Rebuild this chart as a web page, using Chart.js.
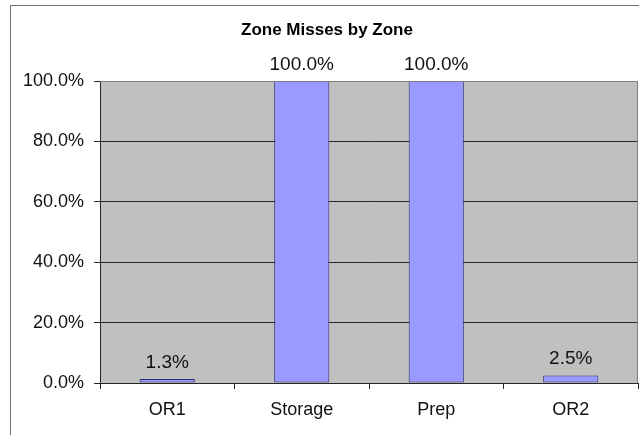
<!DOCTYPE html>
<html>
<head>
<meta charset="utf-8">
<script src="https://cdn.jsdelivr.net/npm/chart.js@4"></script>
<style>
  html, body { margin: 0; padding: 0; background: #fff; }
  canvas { display: block; }
</style>
</head>
<body>
<canvas id="chart" width="639" height="435"></canvas>
<script>
  const zones = ['OR1', 'Storage', 'Prep', 'OR2'];
  const missPct = [1.3, 100, 100, 2.5];
  const yTicks = [0, 20, 40, 60, 80, 100];

  const FONT = "'Liberation Sans', Arial, sans-serif";
  const GRID = '#262626';
  const FRAME = '#808080';

  // outer frame + grey plot area
  const framePlugin = {
    id: 'frame',
    beforeDraw(chart) {
      const { ctx, chartArea: a } = chart;
      ctx.save();
      ctx.fillStyle = '#fff';
      ctx.fillRect(0, 0, chart.width, chart.height);
      ctx.strokeStyle = '#707070';
      ctx.lineWidth = 1;
      ctx.strokeRect(10.5, 5.5, chart.width + 10, chart.height + 10);
      ctx.fillStyle = '#c0c0c0';
      ctx.fillRect(a.left, a.top, a.right - a.left, a.bottom - a.top);
      ctx.restore();
    },
    afterDraw(chart) {
      const { ctx, chartArea: a } = chart;
      ctx.save();
      ctx.strokeStyle = FRAME;
      ctx.lineWidth = 1;
      ctx.beginPath();
      ctx.moveTo(a.left, a.top + 0.5);
      ctx.lineTo(a.right - 0.5, a.top + 0.5);
      ctx.lineTo(a.right - 0.5, a.bottom);
      ctx.stroke();
      ctx.restore();
    }
  };

  //value labels above the bars
  const labelPlugin = {
    id: 'barLabels',
    afterDatasetsDraw(chart) {
      const { ctx } = chart;
      const meta = chart.getDatasetMeta(0);
      ctx.save();
      ctx.font = `19px ${FONT}`;
      ctx.fillStyle = '#111';
      ctx.textAlign = 'center';
      ctx.textBaseline = 'alphabetic';
      meta.data.forEach((bar, i) => {
        ctx.fillText(missPct[i].toFixed(1) + '%', bar.x, bar.y - 11);
      });
      ctx.restore();
    }
  };

  new Chart(document.getElementById('chart'), {
    type: 'bar',
    data: {
      labels: zones,
      datasets: [{
        data: missPct,
        backgroundColor: '#9999ff',
        borderColor: '#2a2a78',
        borderWidth: 1,
        borderSkipped: false,
        barPercentage: 0.41,
        categoryPercentage: 1
      }]
    },
    options: {
      responsive: false,
      animation: false,
      layout: { padding: { left: 16, right: 1, top: 0, bottom: 0 } },
      plugins: {
        legend: { display: false },
        tooltip: { enabled: false },
        title: {
          display: true,
          text: 'Zone Misses by Zone',
          color: '#000',
          font: { family: FONT, size: 17, weight: 'bold' },
          padding: { top: 20, bottom: 40.6 }
        }
      },
      scales: {
        x: {
          afterFit(s) { s.height = 52; },
          grid: {
            offset: true,
            drawOnChartArea: false,
            drawTicks: true,
            tickLength: 6,
            color: GRID
          },
          border: { color: GRID },
          ticks: {
            color: '#111',
            padding: 10,
            font: { family: FONT, size: 18 }
          }
        },
        y: {
          min: 0,
          max: 100,
          afterFit(s) { s.width = 84; },
          afterBuildTicks(s) { s.ticks = yTicks.map(v => ({ value: v })); },
          grid: {
            color: ctx => (ctx.tick && ctx.tick.value === 100 ? FRAME : GRID),
            tickColor: GRID,
            tickLength: 6
          },
          border: { color: GRID },
          ticks: {
            color: '#111',
            padding: 10,
            font: { family: FONT, size: 18 },
            callback: v => v.toFixed(1) + '%'
          }
        }
      }
    },
    plugins: [framePlugin, labelPlugin]
  });
</script>
</body>
</html>
